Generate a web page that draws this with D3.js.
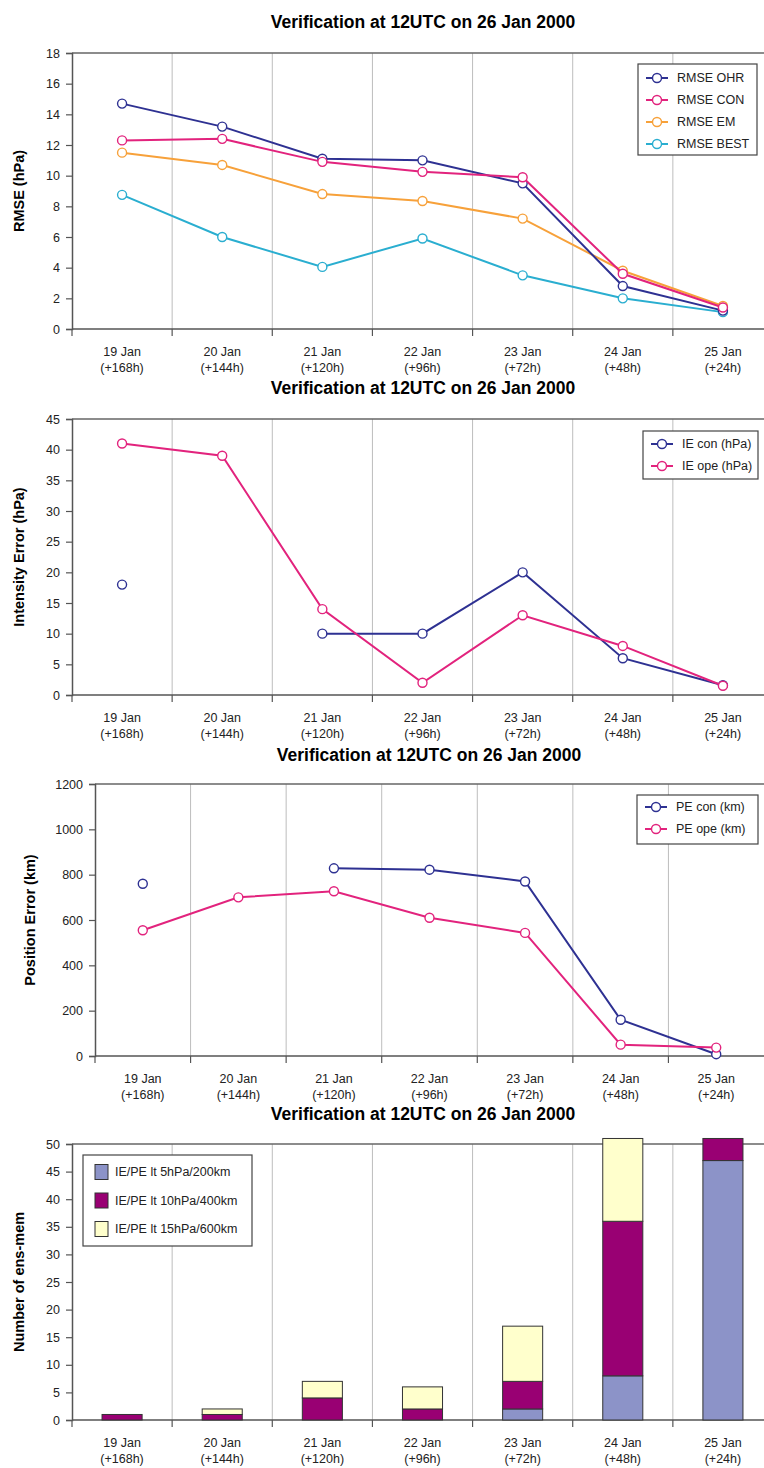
<!DOCTYPE html>
<html>
<head>
<meta charset="utf-8">
<script src="https://cdn.jsdelivr.net/npm/d3@7"></script>
<style>
  body { margin: 0; background: #fff; }
  svg { display: block; font-family: "Liberation Sans", Arial, sans-serif; }
  .title { font-weight: bold; font-size: 17.5px; }
  .ylab { font-weight: bold; font-size: 14.5px; }
  .tick text { font-size: 12.5px; fill: #222; }
  .xlab { font-size: 12.5px; fill: #222; }
  .leg { font-size: 12.5px; fill: #222; }
</style>
</head>
<body>
<svg width="764" height="1468"></svg>
<script>
const days = ['19 Jan', '20 Jan', '21 Jan', '22 Jan', '23 Jan', '24 Jan', '25 Jan'];
const leads = ['(+168h)', '(+144h)', '(+120h)', '(+96h)', '(+72h)', '(+48h)', '(+24h)'];

// panel 1 - RMSE (hPa)
const rmseOHR  = [14.7, 13.2, 11.1, 11.0, 9.5, 2.8, 1.2];
const rmseCON  = [12.3, 12.4, 10.9, 10.25, 9.9, 3.6, 1.4];
const rmseEM   = [11.5, 10.7, 8.8, 8.35, 7.2, 3.8, 1.5];
const rmseBEST = [8.75, 6.0, 4.05, 5.9, 3.5, 2.0, 1.1];

// panel 2 - intensity error (hPa), null = missing
const ieCon = [18, null, 10, 10, 20, 6, 1.6];
const ieOpe = [41, 39, 14, 2, 13, 8, 1.5];

// panel 3 - position error (km)
const peCon = [760, null, 828, 822, 770, 160, 8];
const peOpe = [555, 700, 727, 610, 543, 50, 37];

// panel 4 - number of ensemble members
const lt5  = [0, 0, 0, 0, 2, 8, 47];
const lt10 = [1, 1, 4, 2, 5, 28, 4];
const lt15 = [0, 1, 3, 4, 10, 15, 0];

const titleText = 'Verification at 12UTC on 26 Jan 2000';
const navy = '#2e3192', pink = '#e2237d', orange = '#f7a13a', cyan = '#2aaed0';

const svg = d3.select('svg');

function frame(o) {
  const x = d3.scaleBand().domain(days).range([o.x0, o.x1]);
  const y = d3.scaleLinear().domain([0, o.ymax]).range([o.y0, o.y1]);
  const g = svg.append('g');

  g.append('text').attr('class', 'title')
    .attr('x', o.tx).attr('y', o.ty).attr('text-anchor', 'middle')
    .text(titleText);

  // vertical gridlines at category boundaries
  g.selectAll('.grid').data(days.slice(1)).enter().append('line')
    .attr('x1', d => x(d)).attr('x2', d => x(d))
    .attr('y1', o.y0).attr('y2', o.y1)
    .attr('stroke', '#bdbdbd').attr('stroke-width', 1);

  // top border
  g.append('line').attr('x1', o.x0).attr('x2', 764)
    .attr('y1', o.y1).attr('y2', o.y1)
    .attr('stroke', '#666').attr('stroke-width', 1.5);

  const yAxis = g.append('g').attr('transform', `translate(${o.x0},0)`)
    .call(d3.axisLeft(y).tickValues(d3.range(0, o.ymax + 0.001, o.step))
      .tickFormat(d3.format('d')).tickSize(6).tickPadding(6));
  yAxis.select('.domain').attr('stroke', '#555').attr('stroke-width', 1.5);
  yAxis.selectAll('.tick line').attr('stroke', '#555').attr('stroke-width', 1.2);

  // bottom axis with ticks at boundaries
  g.append('line').attr('x1', o.x0).attr('x2', 764)
    .attr('y1', o.y0).attr('y2', o.y0)
    .attr('stroke', '#555').attr('stroke-width', 1.5);
  g.selectAll('.xt').data(days).enter().append('line')
    .attr('x1', d => x(d)).attr('x2', d => x(d))
    .attr('y1', o.y0).attr('y2', o.y0 + 7)
    .attr('stroke', '#555').attr('stroke-width', 1.2);

  const lab = g.selectAll('.xlab').data(days).enter().append('text')
    .attr('class', 'xlab').attr('text-anchor', 'middle');
  lab.append('tspan').attr('x', d => x(d) + x.bandwidth() / 2).attr('y', o.y0 + 27).text(d => d);
  lab.append('tspan').attr('x', d => x(d) + x.bandwidth() / 2).attr('y', o.y0 + 43)
    .text((d, i) => leads[i]);

  g.append('text').attr('class', 'ylab')
    .attr('transform', `translate(${o.lx},${(o.y0 + o.y1) / 2}) rotate(-90)`)
    .attr('text-anchor', 'middle').attr('dy', '0.35em')
    .text(o.ylabel);

  return { g, x, y };
}

function lineSeries(p, vals, color) {
  const cx = (d, i) => p.x(days[i]) + p.x.bandwidth() / 2;
  const line = d3.line().defined(d => d != null)
    .x(cx).y(d => p.y(d));
  p.g.append('path').datum(vals)
    .attr('d', line).attr('fill', 'none')
    .attr('stroke', color).attr('stroke-width', 2);
  p.g.selectAll(null).data(vals.map((v, i) => ({ v, i })).filter(d => d.v != null))
    .enter().append('circle')
    .attr('cx', d => cx(d.v, d.i)).attr('cy', d => p.y(d.v)).attr('r', 4.5)
    .attr('fill', '#fff').attr('stroke', color).attr('stroke-width', 1.4);
}

function lineLegend(p, box, items) {
  p.g.append('rect').attr('x', box.x).attr('y', box.y)
    .attr('width', box.w).attr('height', box.h)
    .attr('fill', '#fff').attr('stroke', '#444').attr('stroke-width', 1.2);
  items.forEach((it, i) => {
    const yy = box.r0 + i * box.dr;
    p.g.append('line').attr('x1', box.x + 8).attr('x2', box.x + 30)
      .attr('y1', yy).attr('y2', yy).attr('stroke', it.c).attr('stroke-width', 2);
    p.g.append('circle').attr('cx', box.x + 19).attr('cy', yy).attr('r', 4.5)
      .attr('fill', '#fff').attr('stroke', it.c).attr('stroke-width', 1.4);
    p.g.append('text').attr('class', 'leg').attr('x', box.x + 39).attr('y', yy)
      .attr('dy', '0.35em').text(it.name);
  });
}

// ---- panel 1
const p1 = frame({ x0: 72, x1: 773, y0: 329, y1: 53, ymax: 18, step: 2,
  tx: 423, ty: 28, lx: 19, ylabel: 'RMSE (hPa)' });
lineSeries(p1, rmseBEST, cyan);
lineSeries(p1, rmseEM, orange);
lineSeries(p1, rmseOHR, navy);
lineSeries(p1, rmseCON, pink);
lineLegend(p1, { x: 638, y: 64, w: 119, h: 91, r0: 78, dr: 22 }, [
  { name: 'RMSE OHR', c: navy }, { name: 'RMSE CON', c: pink },
  { name: 'RMSE EM', c: orange }, { name: 'RMSE BEST', c: cyan }]);

// ---- panel 2
const p2 = frame({ x0: 72, x1: 773, y0: 695, y1: 419, ymax: 45, step: 5,
  tx: 423, ty: 394, lx: 19, ylabel: 'Intensity Error (hPa)' });
lineSeries(p2, ieCon, navy);
lineSeries(p2, ieOpe, pink);
lineLegend(p2, { x: 643, y: 431, w: 115, h: 48, r0: 444, dr: 22 }, [
  { name: 'IE con (hPa)', c: navy }, { name: 'IE ope (hPa)', c: pink }]);

// ---- panel 3
const p3 = frame({ x0: 95, x1: 764, y0: 1056, y1: 784, ymax: 1200, step: 200,
  tx: 429, ty: 761, lx: 30, ylabel: 'Position Error (km)' });
lineSeries(p3, peCon, navy);
lineSeries(p3, peOpe, pink);
lineLegend(p3, { x: 637, y: 795, w: 121, h: 49, r0: 807, dr: 22 }, [
  { name: 'PE con (km)', c: navy }, { name: 'PE ope (km)', c: pink }]);

// ---- panel 4
const p4 = frame({ x0: 72, x1: 773, y0: 1420, y1: 1144, ymax: 50, step: 5,
  tx: 423, ty: 1120, lx: 19, ylabel: 'Number of ens-mem' });
const keys = ['lt5', 'lt10', 'lt15'];
const barColors = { lt5: '#8c93c8', lt10: '#990073', lt15: '#ffffcc' };
const barNames = { lt5: 'IE/PE lt 5hPa/200km', lt10: 'IE/PE lt 10hPa/400km', lt15: 'IE/PE lt 15hPa/600km' };
const table = days.map((d, i) => ({ day: d, lt5: lt5[i], lt10: lt10[i], lt15: lt15[i] }));
const stacked = d3.stack().keys(keys)(table);
const bw = p4.x.bandwidth() * 0.4;
stacked.forEach(layer => {
  p4.g.selectAll(null).data(layer.filter(s => s[1] > s[0])).enter().append('rect')
    .attr('x', s => p4.x(s.data.day) + (p4.x.bandwidth() - bw) / 2)
    .attr('width', bw)
    .attr('y', s => p4.y(s[1]))
    .attr('height', s => p4.y(s[0]) - p4.y(s[1]))
    .attr('fill', barColors[layer.key])
    .attr('stroke', '#333').attr('stroke-width', 1);
});
p4.g.append('rect').attr('x', 83).attr('y', 1155).attr('width', 169).attr('height', 91)
  .attr('fill', '#fff').attr('stroke', '#444').attr('stroke-width', 1.2);
keys.forEach((k, i) => {
  const yy = 1172 + i * 28.5;
  p4.g.append('rect').attr('x', 95).attr('y', yy - 7.5).attr('width', 13).attr('height', 15)
    .attr('fill', barColors[k]).attr('stroke', '#333').attr('stroke-width', 1);
  p4.g.append('text').attr('class', 'leg').attr('x', 115).attr('y', yy)
    .attr('dy', '0.35em').text(barNames[k]);
});
</script>
</body>
</html>
